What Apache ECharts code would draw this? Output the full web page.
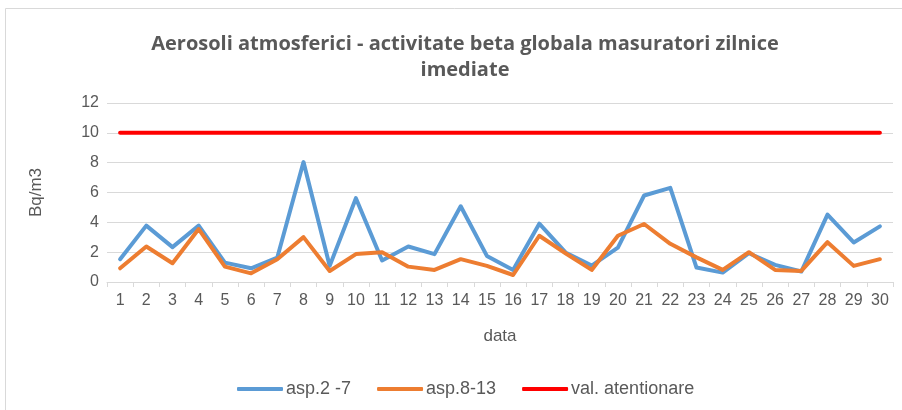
<!DOCTYPE html>
<html><head><meta charset="utf-8">
<script src="https://cdn.jsdelivr.net/npm/echarts@6/dist/echarts.min.js"></script>
<style>html,body{margin:0;padding:0;background:#fff}#c{width:902px;height:410px}</style>
</head><body><div id="c"></div>
<script>
const categories = ['1','2','3','4','5','6','7','8','9','10','11','12','13','14','15','16','17','18','19','20','21','22','23','24','25','26','27','28','29','30'];
const asp2_7 = [1.53,3.78,2.34,3.78,1.30,0.92,1.64,8.04,1.08,5.62,1.44,2.38,1.87,5.08,1.75,0.81,3.91,1.98,1.10,2.31,5.80,6.31,0.97,0.63,1.93,1.15,0.70,4.52,2.65,3.73];
const asp8_13 = [0.92,2.38,1.26,3.55,1.03,0.58,1.53,3.01,0.74,1.87,2.00,1.03,0.81,1.53,1.08,0.47,3.10,1.93,0.81,3.10,3.89,2.56,1.65,0.81,2.00,0.81,0.74,2.67,1.08,1.53];
const valAtentionare = categories.map(() => 10);
const yTicks = {min: 0, max: 12, interval: 2};

const chart = echarts.init(document.getElementById('c'));
const txt = '#595959';
const font = 'Liberation Sans';
function line(name, data, color) {
  return {name, type: 'line', data, symbol: 'none', lineStyle: {color, width: 4, cap: 'round', join: 'round'}, itemStyle: {color}};
}
chart.setOption({
  animation: false,
  textStyle: {fontFamily: font},
  graphic: [{type: 'rect', shape: {x: 5.5, y: 8.5, width: 902, height: 402}, style: {fill: 'none', stroke: '#d9d9d9', lineWidth: 1}, silent: true}],
  title: {
    text: 'Aerosoli atmosferici - activitate beta globala masuratori zilnice\nimediate',
    left: 460, top: 26, textAlign: 'center',
    textStyle: {fontFamily: 'Open Sans', fontSize: 20, fontWeight: 'bold', color: txt, lineHeight: 26}
  },
  legend: {
    bottom: 7, left: 232, itemWidth: 46, itemHeight: 4, itemGap: 26,
    icon: 'roundRect',
    textStyle: {fontSize: 18, color: txt, padding: [0, 0, 0, -2]},
    data: ['asp.2 -7', 'asp.8-13', 'val. atentionare']
  },
  grid: {left: 107, right: 9, top: 103, bottom: 128},
  xAxis: {
    type: 'category', data: categories, boundaryGap: true,
    name: 'data', nameLocation: 'middle', nameGap: 46,
    nameTextStyle: {fontSize: 17, color: txt},
    axisLine: {lineStyle: {color: '#d9d9d9', width: 1}},
    axisTick: {show: true, length: 5, alignWithLabel: false, lineStyle: {color: '#d9d9d9'}},
    axisLabel: {fontSize: 16, color: txt, margin: 11, interval: 0}
  },
  yAxis: {
    type: 'value', min: yTicks.min, max: yTicks.max, interval: yTicks.interval,
    name: 'Bq/m3', nameLocation: 'middle', nameGap: 62, nameRotate: 90,
    nameTextStyle: {fontSize: 17, color: txt},
    axisLine: {show: false}, axisTick: {show: false},
    axisLabel: {fontSize: 16, color: txt, margin: 8},
    splitLine: {lineStyle: {color: '#d9d9d9', width: 1}}
  },
  series: [
    line('asp.2 -7', asp2_7, '#5b9bd5'),
    line('asp.8-13', asp8_13, '#ed7d31'),
    line('val. atentionare', valAtentionare, '#ff0000')
  ]
});
</script></body></html>
